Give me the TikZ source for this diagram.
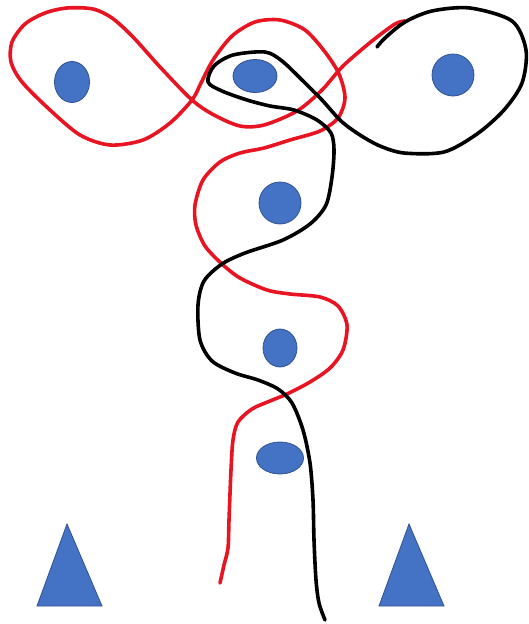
\documentclass[tikz,border=0pt]{standalone}
\usetikzlibrary{shapes.geometric}
\definecolor{dotblue}{HTML}{4472C4}
\definecolor{dotedge}{HTML}{2F528F}
\definecolor{redline}{RGB}{232,20,34}
\tikzset{
  dot/.style={ellipse, fill=dotblue, draw=dotedge, line width=0.8pt, inner sep=0pt},
  tri/.style={fill=dotblue, draw=dotedge, line width=0.8pt},
  strand/.style={line width=3.6pt, line cap=round, line join=round}
}
\begin{document}
\begin{tikzpicture}[x=1pt,y=-1pt]
\useasboundingbox (0,0) rectangle (528,624);
% dots
\node[dot, minimum width=35pt, minimum height=41pt] (d1) at (72,82) {};
\node[dot, minimum width=44pt, minimum height=33pt] (d2) at (255,76) {};
\node[dot, minimum width=42pt, minimum height=42pt] (d3) at (453,75) {};
\node[dot, minimum width=42pt, minimum height=42pt] (d4) at (280,203) {};
\node[dot, minimum width=34pt, minimum height=38pt] (d5) at (280,348) {};
\node[dot, minimum width=47pt, minimum height=32pt] (d6) at (280,458) {};
% triangles
\filldraw[tri] (67,524) -- (102,606) -- (37,606) -- cycle;
\filldraw[tri] (409,524) -- (444,606) -- (379,606) -- cycle;
% red strand
\draw[strand, redline] plot[smooth, tension=0.5] coordinates {
(220,583) (224,565) (228,548) (229,520) (231,470) (233,440) (238,422) (252,409) (270,401) (287,394) (310,382) (330,368) (343,350) (347,325) (338,306) (320,297) (290,294) (267,290) (240,278) (222,264) (205,246) (196,225) (195,205) (203,180) (220,162) (240,153) (264,148) (290,140) (320,131) (338,118) (345,98) (339,74) (325,52) (305,30) (280,20) (255,22) (232,36) (213,60) (201,83) (192,100) (170,123) (143,140) (110,145) (80,135) (50,110) (22,82) (11,62) (12,42) (25,24) (45,13) (67,8) (93,9) (112,18) (133,37) (160,67) (192,100) (214,115) (240,126) (264,125) (297,111) (322,90) (343,66) (372,41) (395,24) (405,21)};
% black strand
\draw[strand, black] plot[smooth, tension=0.5] coordinates {
(325,620) (319,603) (316,580) (314,540) (313,500) (310,463) (303,430) (292,403) (278,389) (258,380) (235,373) (212,361) (200,340) (198,305) (204,281) (222,264) (245,253) (283,240) (310,224) (326,205) (332,177) (334,150) (331,133) (317,120) (294,110) (270,106) (247,100) (222,91) (208,82) (214,66) (233,55) (265,52) (282,61) (301,79) (322,100) (341,121) (360,135) (380,146) (404,153) (444,152) (477,134) (504,110) (522,83) (526,50) (512,21) (470,8) (432,11) (405,22) (385,38) (377,47)};
\end{tikzpicture}
\end{document}
